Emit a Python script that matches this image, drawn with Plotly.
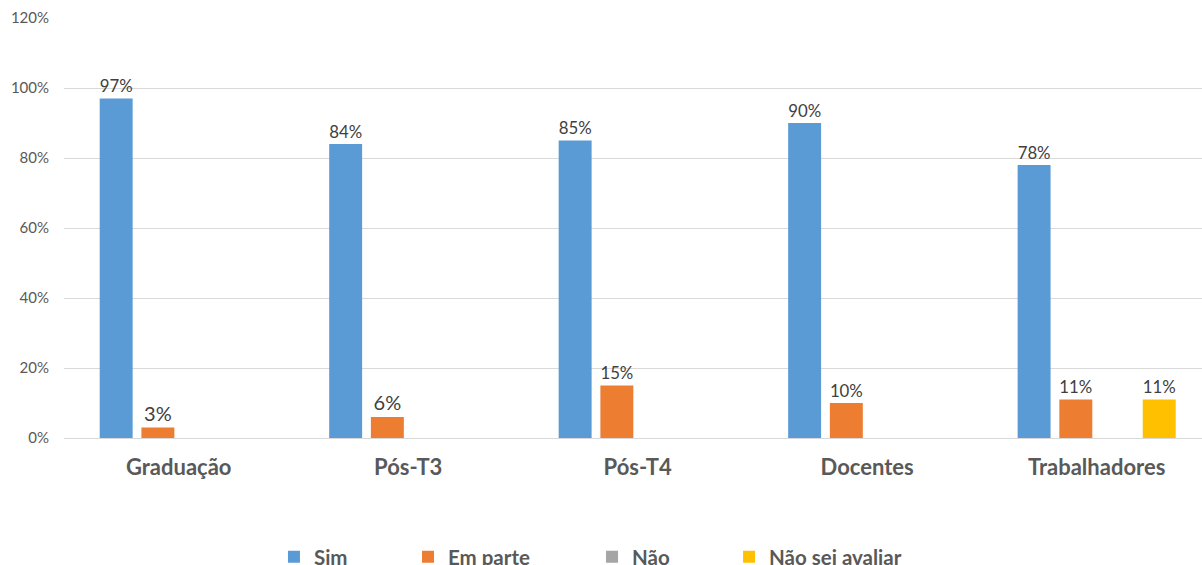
import plotly.graph_objects as go

categories = ["Graduação", "Pós-T3", "Pós-T4", "Docentes", "Trabalhadores"]
series_names = ["Sim", "Em parte", "Não", "Não sei avaliar"]
sim = [97, 84, 85, 90, 78]
em_parte = [3, 6, 15, 10, 11]
nao = [0, 0, 0, 0, 0]
nao_sei = [0, 0, 0, 0, 11]
colors = ["#5B9BD5", "#ED7D31", "#A5A5A5", "#FFC000"]
y_ticks = [0, 20, 40, 60, 80, 100, 120]

FONT = "Lato"
legend_ids = ["legend", "legend2", "legend3", "legend4"]
legend_x = [0.1845, 0.3023, 0.464, 0.5844]

fig = go.Figure()
for name, vals, col, lid in zip(series_names, [sim, em_parte, nao, nao_sei], colors, legend_ids):
    fig.add_trace(go.Bar(
        x=categories, y=vals, name=name, legend=lid, showlegend=True,
        marker=dict(color=col, line=dict(width=0)),
        text=[f"{v}%" if v > 0 else "" for v in vals],
        textposition="outside",
        textfont=dict(family=FONT, size=20, color="#404040"),
        cliponaxis=False,
    ))

legend_style = dict(orientation="h", xanchor="left", y=-0.283, yanchor="middle",
                    font=dict(family=FONT, size=20.5, color="#595959", weight="bold"),
                    bgcolor="rgba(0,0,0,0)", visible=True)
layout_legends = {lid: dict(legend_style, x=lx) for lid, lx in zip(legend_ids, legend_x)}

fig.update_layout(
    width=1202, height=565,
    margin=dict(l=64, r=0, t=18, b=127, autoexpand=False),
    paper_bgcolor="white", plot_bgcolor="white",
    barmode="group", bargap=0.273, bargroupgap=0.21,
    font=dict(family=FONT, color="#595959"),
    showlegend=True,
    **layout_legends,
)
fig.update_xaxes(range=[-0.5, 4.459], showgrid=False, showline=False, zeroline=False,
                 ticks="", tickfont=dict(family=FONT, size=22, color="#595959", weight="bold"),
                 ticklabelstandoff=14)
fig.update_yaxes(range=[0, 120], tickvals=y_ticks, ticktext=[f"{t}%" for t in y_ticks],
                 showgrid=True, gridcolor="#D9D9D9", gridwidth=1,
                 zeroline=True, zerolinecolor="#D9D9D9", zerolinewidth=1,
                 showline=False, ticks="", tickfont=dict(family=FONT, size=15, color="#595959"),
                 ticklabelstandoff=14)

fig.write_html("out.html")
